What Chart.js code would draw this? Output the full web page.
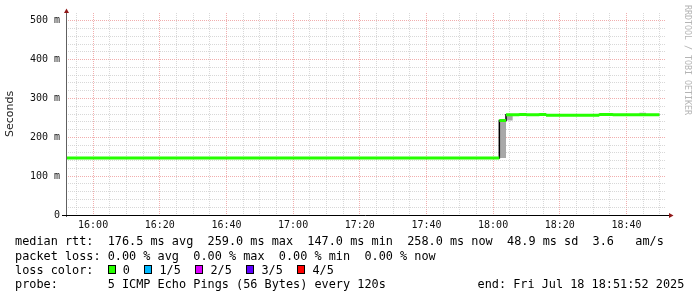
<!DOCTYPE html>
<html>
<head>
<meta charset="utf-8">
<title>SmokePing 3 hours</title>
<script src="https://cdn.jsdelivr.net/npm/chart.js@4.4.1/dist/chart.umd.min.js"></script>
<style>
    html, body { margin: 0; padding: 0; background: #fff; }
    #wrap { position: relative; width: 697px; height: 297px; overflow: hidden; }
    #graph { position: absolute; left: 0; top: 0; }
    .txt { position: absolute; font-family: 'DejaVu Sans Mono', monospace; font-size: 11.85px;
           line-height: 14px; color: #000; white-space: pre; }
    .row { display: flex; align-items: center; }
    .box { display: inline-block; width: 6px; height: 7px; border: 1px solid #000; margin-right: 7px; }
    .lbl { margin-right: 14.6px; }
    #mark { position: absolute; left: 683px; top: 5px; writing-mode: vertical-rl;
            font-family: 'DejaVu Sans Mono', monospace; font-size: 8.3px; color: #b4b4b4; }
</style>
</head>
<body>
<div id="wrap">
    <canvas id="graph" width="697" height="297"></canvas>
    <div class="txt" id="rtt" style="left:15px; top:234px"></div>
    <div class="txt" id="loss" style="left:15px; top:248.5px"></div>
    <div class="txt row" id="colors" style="left:15px; top:262.5px"></div>
    <div class="txt" id="probe" style="left:15px; top:277px"></div>
    <div class="txt" id="end" style="left:477.5px; top:277px"></div>
    <div id="mark">RRDTOOL / TOBI OETIKER</div>
</div>
<script>
// graph window: 3 hours ending Fri Jul 18 18:51:52 2025
const startClock = '15:51:52';
const spanMinutes = 180;
const stepMinutes = 2;   // one probe every 120 s

// median rtt per probe round, in ms
const medianMs = [
    147, 147, 147, 147, 147, 147, 147, 147, 147, 147,
    147, 147, 147, 147, 147, 147, 147, 147, 147, 147,
    147, 147, 147, 147, 147, 147, 147, 147, 147, 147,
    147, 147, 147, 147, 147, 147, 147, 147, 147, 147,
    147, 147, 147, 147, 147, 147, 147, 147, 147, 147,
    147, 147, 147, 147, 147, 147, 147, 147, 147, 147,
    147, 147, 147, 147, 147, 243, 258, 258, 259, 258,
    258, 259, 257, 257, 257, 257, 257, 257, 257, 257,
    259, 259, 258, 258, 258, 258, 258, 258, 258
];

// rounds where the smoke (spread of the 5 pings) is visible
const smokeIndex = [65, 66, 86];
const smokeLowMs = [147, 243, 258];
const smokeHighMs = [243, 258, 263];

const xTickLabels = ['16:00', '16:20', '16:40', '17:00', '17:20', '17:40', '18:00', '18:20', '18:40'];
const yTickValues = [0, 100, 200, 300, 400, 500];
const yTickLabels = ['0', '100 m', '200 m', '300 m', '400 m', '500 m'];

const lossLabels = ['0', '1/5', '2/5', '3/5', '4/5'];
const lossColors = ['#26ff00', '#00b8ff', '#dd00ff', '#5e00ff', '#ff0000'];

const rttLine = 'median rtt:  176.5 ms avg  259.0 ms max  147.0 ms min  258.0 ms now  48.9 ms sd  3.6   am/s';
const lossLine = 'packet loss: 0.00 % avg  0.00 % max  0.00 % min  0.00 % now';
const probeLine = 'probe:       5 ICMP Echo Pings (56 Bytes) every 120s';
const endLine = 'end: Fri Jul 18 18:51:52 2025';

function clockToMinutes(clock) {
    let p = clock.split(':').map(Number);
    let s = p[0] * 60 + p[1] + (p[2] || 0) / 60;
    let p0 = startClock.split(':').map(Number);
    return s - (p0[0] * 60 + p0[1] + p0[2] / 60);
}

// legend text below the graph
function fillLegend() {
    document.getElementById('rtt').textContent = rttLine;
    document.getElementById('loss').textContent = lossLine;
    document.getElementById('probe').textContent = probeLine;
    document.getElementById('end').textContent = endLine;

    let row = document.getElementById('colors');
    let head = document.createElement('span');
    head.textContent = 'loss color:  ';
    row.appendChild(head);
    lossLabels.forEach((lbl, i) => {
        let box = document.createElement('span');
        box.className = 'box';
        box.style.background = lossColors[i];
        row.appendChild(box);
        let t = document.createElement('span');
        t.className = 'lbl';
        t.textContent = lbl;
        row.appendChild(t);
    });
}

function buildSeries() {
    let low = medianMs.slice();
    let high = medianMs.slice();
    smokeIndex.forEach((idx, k) => {
        low[idx] = smokeLowMs[k];
        high[idx] = smokeHighMs[k];
    });

    // value i holds from i*step to (i+1)*step, so one closing point at the end
    let stepPts = arr => {
        let pts = arr.map((v, i) => ({x: i * stepMinutes, y: v}));
        pts.push({x: arr.length * stepMinutes, y: arr[arr.length - 1]});
        return pts;
    };

    // median drawn as flat pieces, the vertical steps come from the black line below
    let flat = [];
    medianMs.forEach((v, i) => {
        flat.push({x: i * stepMinutes, y: v});
        flat.push({x: (i + 1) * stepMinutes, y: v});
        if (i + 1 < medianMs.length && medianMs[i + 1] !== v) {
            flat.push({x: (i + 1) * stepMinutes, y: null});
        }
    });

    return {low: stepPts(low), high: stepPts(high), steps: stepPts(medianMs), flat: flat};
}

const majorX = xTickLabels.map(clockToMinutes);
const gridMajor = 'rgba(235, 140, 140, 0.7)';
const gridMinor = 'rgba(190, 190, 190, 0.6)';

const axisArrows = {
    id: 'axisArrows',
    afterDatasetsDraw(chart) {
        const {ctx, chartArea: a} = chart;
        ctx.save();
        ctx.lineWidth = 1;
        ctx.strokeStyle = '#606060';
        ctx.beginPath();
        ctx.moveTo(a.left + 0.5, a.bottom + 2);
        ctx.lineTo(a.left + 0.5, a.top - 1);
        ctx.stroke();
        ctx.strokeStyle = '#000';
        ctx.beginPath();
        ctx.moveTo(a.left - 4, a.bottom + 0.5);
        ctx.lineTo(a.right + 3, a.bottom + 0.5);
        ctx.stroke();
        ctx.fillStyle = '#901818';
        ctx.beginPath();
        ctx.moveTo(a.left + 0.5, a.top - 4.5);
        ctx.lineTo(a.left - 2, a.top);
        ctx.lineTo(a.left + 3, a.top);
        ctx.fill();
        ctx.beginPath();
        ctx.moveTo(a.right + 7.5, a.bottom + 0.5);
        ctx.lineTo(a.right + 3, a.bottom - 2);
        ctx.lineTo(a.right + 3, a.bottom + 3);
        ctx.fill();
        ctx.restore();
    }
};

function gridOptions() {
    return {
        drawTicks: false,
        lineWidth: 1,
        color: ctx => ctx.tick && ctx.tick.isMajor ? gridMajor : gridMinor
    };
}

function drawGraph() {
    const series = buildSeries();
    Chart.defaults.font.family = "'DejaVu Sans Mono', monospace";
    Chart.defaults.color = '#000';

    new Chart(document.getElementById('graph'), {
        type: 'line',
        data: {
            datasets: [
                {
                    label: 'median',
                    data: series.flat,
                    borderColor: '#26ff00',
                    borderWidth: 3,
                    borderCapStyle: 'butt',
                    pointRadius: 0,
                    spanGaps: false,
                    fill: false,
                    order: 0
                },
                {
                    label: 'steps',
                    data: series.steps,
                    stepped: 'before',
                    borderColor: '#000',
                    borderWidth: 1.5,
                    pointRadius: 0,
                    fill: false,
                    order: 1
                },
                {
                    label: 'smoke low',
                    data: series.low,
                    stepped: 'before',
                    borderColor: 'rgba(0,0,0,0)',
                    borderWidth: 1,
                    pointRadius: 0,
                    fill: false,
                    order: 3
                },
                {
                    label: 'smoke high',
                    data: series.high,
                    stepped: 'before',
                    borderColor: 'rgba(0,0,0,0)',
                    backgroundColor: '#a8a8a8',
                    borderWidth: 1,
                    pointRadius: 0,
                    fill: '-1',
                    order: 2
                }
            ]
        },
        options: {
            responsive: false,
            animation: false,
            devicePixelRatio: 1,
            layout: {padding: {left: 0, right: 31, top: 13, bottom: 0}},
            plugins: {
                legend: {display: false},
                tooltip: {enabled: false}
            },
            scales: {
                x: {
                    type: 'linear',
                    min: 0,
                    max: spanMinutes,
                    afterFit: scale => { scale.height = 82; },
                    afterBuildTicks: scale => {
                        let ticks = [];
                        for (let v = majorX[0] - 5; v <= spanMinutes; v += 5) {
                            if (v < 0) continue;
                            ticks.push({value: v, isMajor: majorX.some(m => Math.abs(m - v) < 0.01)});
                        }
                        scale.ticks = ticks;
                    },
                    border: {display: false, dash: [1, 1]},
                    grid: gridOptions(),
                    ticks: {
                        autoSkip: false,
                        maxRotation: 0,
                        padding: 4,
                        font: {size: 10},
                        color: '#111',
                        callback: value => {
                            let k = majorX.findIndex(m => Math.abs(m - value) < 0.01);
                            return k >= 0 ? xTickLabels[k] : '';
                        }
                    }
                },
                y: {
                    type: 'linear',
                    min: 0,
                    max: 520,
                    afterFit: scale => { scale.width = 66; },
                    afterBuildTicks: scale => {
                        let ticks = [];
                        for (let v = 0; v <= yTickValues[yTickValues.length - 1]; v += 20) {
                            ticks.push({value: v, isMajor: yTickValues.includes(v)});
                        }
                        scale.ticks = ticks;
                    },
                    border: {display: false, dash: [1, 1]},
                    grid: gridOptions(),
                    ticks: {
                        autoSkip: false,
                        padding: 6,
                        font: {size: 10},
                        color: '#111',
                        callback: value => {
                            let k = yTickValues.indexOf(value);
                            return k >= 0 ? yTickLabels[k] : '';
                        }
                    },
                    title: {
                        display: true,
                        text: 'Seconds',
                        color: '#222',
                        font: {family: "'DejaVu Sans', sans-serif", size: 11},
                        padding: {top: 4, bottom: 0}
                    }
                }
            }
        },
        plugins: [axisArrows]
    });
}

window.addEventListener('load', evt => {
    fillLegend();
    drawGraph();
});
</script>
</body>
</html>
